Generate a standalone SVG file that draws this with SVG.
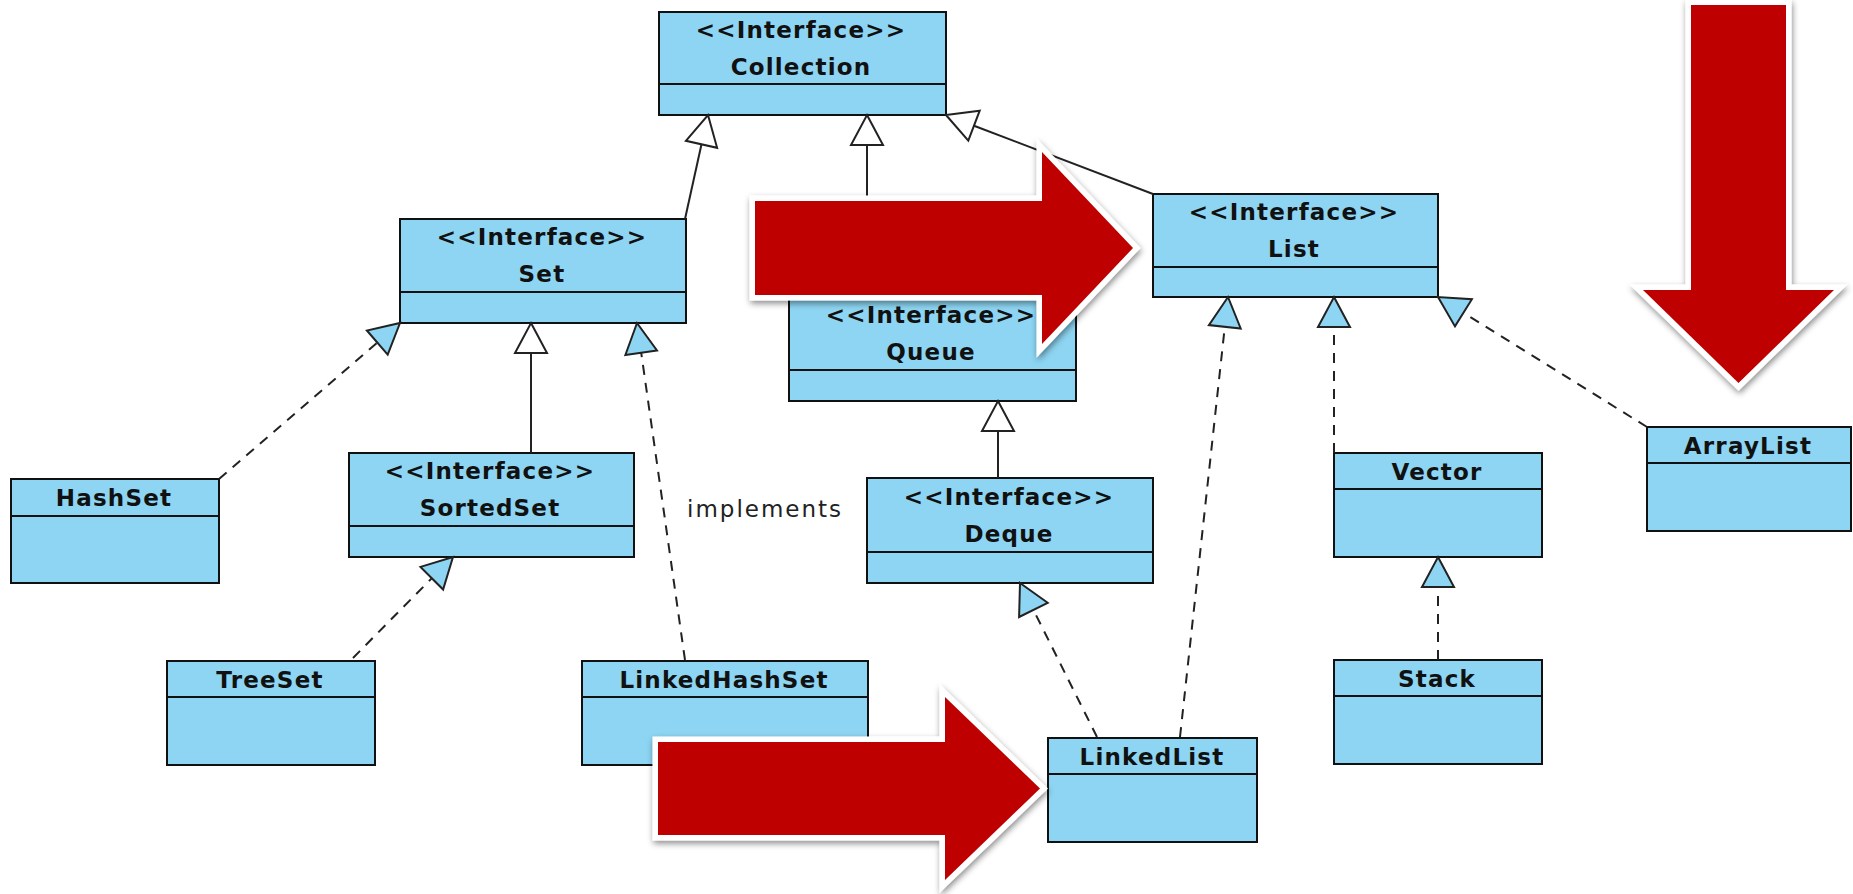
<svg xmlns="http://www.w3.org/2000/svg" width="1853" height="894" viewBox="0 0 1853 894">
<defs>
<filter id="sh" x="-20%" y="-20%" width="140%" height="140%">
<feDropShadow dx="1" dy="3" stdDeviation="3" flood-color="#000" flood-opacity="0.45"/>
</filter>
<style>
.box{fill:#8DD5F2;stroke:#111;stroke-width:2}
.dv{stroke:#111;stroke-width:2}
.t{font-family:"DejaVu Sans",sans-serif;font-weight:bold;font-size:23px;fill:#111;text-anchor:middle;letter-spacing:1.2px}
.lbl{font-family:"DejaVu Sans",sans-serif;font-size:23px;fill:#222;letter-spacing:2px}
.solid{stroke:#222;stroke-width:2;fill:none}
.dash{stroke:#222;stroke-width:2;fill:none;stroke-dasharray:10 8}
.open{fill:#fff;stroke:#222;stroke-width:2}
.real{fill:#8DD5F2;stroke:#222;stroke-width:2}
.red{fill:#BF0000;stroke:#fff;stroke-width:11;paint-order:stroke;stroke-linejoin:miter;filter:url(#sh)}
</style>
</defs>
<rect width="1853" height="894" fill="#fff"/>

<g id="Collection"><rect class="box" x="659" y="12" width="287" height="103"/><line class="dv" x1="659" y1="84" x2="946" y2="84"/><text class="t" x="801" y="38">&lt;&lt;Interface&gt;&gt;</text><text class="t" x="801" y="75">Collection</text></g>
<g id="Set"><rect class="box" x="400" y="219" width="286" height="104"/><line class="dv" x1="400" y1="292" x2="686" y2="292"/><text class="t" x="542" y="245">&lt;&lt;Interface&gt;&gt;</text><text class="t" x="542" y="282">Set</text></g>
<g id="Queue"><rect class="box" x="789" y="297" width="287" height="104"/><line class="dv" x1="789" y1="370" x2="1076" y2="370"/><text class="t" x="931" y="323">&lt;&lt;Interface&gt;&gt;</text><text class="t" x="931" y="360">Queue</text></g>
<g id="List"><rect class="box" x="1153" y="194" width="285" height="103"/><line class="dv" x1="1153" y1="267" x2="1438" y2="267"/><text class="t" x="1294" y="220">&lt;&lt;Interface&gt;&gt;</text><text class="t" x="1294" y="257">List</text></g>
<g id="SortedSet"><rect class="box" x="349" y="453" width="285" height="104"/><line class="dv" x1="349" y1="526" x2="634" y2="526"/><text class="t" x="490" y="479">&lt;&lt;Interface&gt;&gt;</text><text class="t" x="490" y="516">SortedSet</text></g>
<g id="Deque"><rect class="box" x="867" y="478" width="286" height="105"/><line class="dv" x1="867" y1="552" x2="1153" y2="552"/><text class="t" x="1009" y="505">&lt;&lt;Interface&gt;&gt;</text><text class="t" x="1009" y="542">Deque</text></g>
<g id="HashSet"><rect class="box" x="11" y="479" width="208" height="104"/><line class="dv" x1="11" y1="516" x2="219" y2="516"/><text class="t" x="114" y="506">HashSet</text></g>
<g id="TreeSet"><rect class="box" x="167" y="661" width="208" height="104"/><line class="dv" x1="167" y1="697" x2="375" y2="697"/><text class="t" x="270" y="688">TreeSet</text></g>
<g id="LinkedHashSet"><rect class="box" x="582" y="661" width="286" height="104"/><line class="dv" x1="582" y1="697" x2="868" y2="697"/><text class="t" x="724" y="688">LinkedHashSet</text></g>
<g id="LinkedList"><rect class="box" x="1048" y="738" width="209" height="104"/><line class="dv" x1="1048" y1="774" x2="1257" y2="774"/><text class="t" x="1152" y="765">LinkedList</text></g>
<g id="Vector"><rect class="box" x="1334" y="453" width="208" height="104"/><line class="dv" x1="1334" y1="489" x2="1542" y2="489"/><text class="t" x="1437" y="480">Vector</text></g>
<g id="Stack"><rect class="box" x="1334" y="660" width="208" height="104"/><line class="dv" x1="1334" y1="696" x2="1542" y2="696"/><text class="t" x="1437" y="687">Stack</text></g>
<g id="ArrayList"><rect class="box" x="1647" y="427" width="204" height="104"/><line class="dv" x1="1647" y1="463" x2="1851" y2="463"/><text class="t" x="1748" y="454">ArrayList</text></g>

<g id="connectors">
<line class="solid" x1="685" y1="219" x2="701.5" y2="144.3"/>
<polygon class="open" points="708,115 717.1,147.8 685.9,140.8"/>
<line class="solid" x1="867" y1="297" x2="867" y2="145"/>
<polygon class="open" points="867,115 883,145 851,145"/>
<line class="solid" x1="1153" y1="194" x2="974" y2="125.7"/>
<polygon class="open" points="946,115 968.3,140.7 979.7,110.7"/>
<line class="solid" x1="531" y1="453" x2="531" y2="353"/>
<polygon class="open" points="531,323 547,353 515,353"/>
<line class="solid" x1="998" y1="478" x2="998" y2="431"/>
<polygon class="open" points="998,401 1014,431 982,431"/>

<line class="dash" x1="219" y1="479" x2="377.3" y2="342.6"/>
<polygon class="real" points="400,323 387.7,354.7 366.9,330.5"/>
<line class="dash" x1="353" y1="658" x2="431.8" y2="578.2"/>
<polygon class="real" points="453,557 443.1,589.5 420.5,566.9"/>
<line class="dash" x1="685" y1="660" x2="641.2" y2="352.7"/>
<polygon class="real" points="637,323 657,350.5 625.4,355"/>
<line class="dash" x1="1097" y1="737" x2="1033.4" y2="609.9"/>
<polygon class="real" points="1020,583 1047.7,602.8 1019.1,617"/>
<line class="dash" x1="1180" y1="737" x2="1224.8" y2="326.8"/>
<polygon class="real" points="1228,297 1240.7,328.5 1208.9,325.1"/>
<line class="dash" x1="1334" y1="453" x2="1334" y2="327"/>
<polygon class="real" points="1334,297 1350,327 1318,327"/>
<line class="dash" x1="1647" y1="427" x2="1463.5" y2="312.8"/>
<polygon class="real" points="1438,297 1455,326.4 1471.9,299.2"/>
<line class="dash" x1="1438" y1="660" x2="1438" y2="587"/>
<polygon class="real" points="1438,557 1454,587 1422,587"/>
<text class="lbl" x="687" y="517">implements</text>
</g>

<g id="red-arrows">
<path class="red" d="M755,201 L1042,201 L1042,152 L1133,248 L1042,344 L1042,295 L755,295 Z"/>
<path class="red" d="M658,742 L945,742 L945,697 L1040,788.5 L945,880 L945,835 L658,835 Z"/>
<path class="red" d="M1691,5 L1786,5 L1786,290 L1834,290 L1738.5,383 L1643,290 L1691,290 Z"/>
</g>
</svg>
